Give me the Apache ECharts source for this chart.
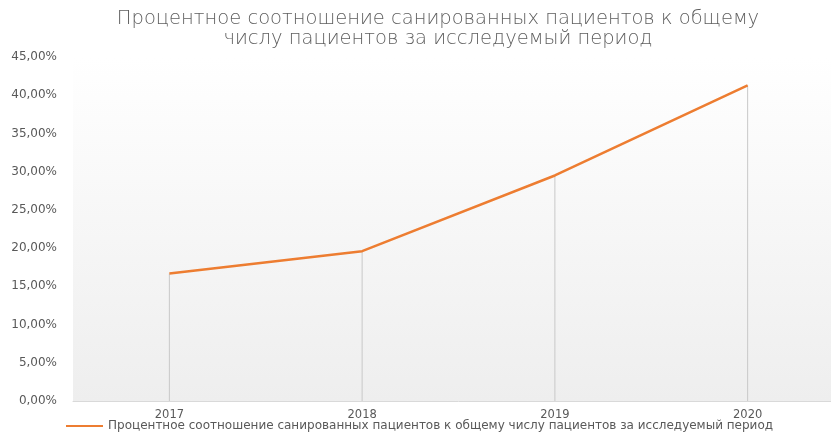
<!DOCTYPE html>
<html>
<head>
<meta charset="utf-8">
<script src="https://cdn.jsdelivr.net/npm/echarts@6/dist/echarts.min.js"></script>
<style>
  html, body { margin: 0; padding: 0; background: #ffffff; overflow: hidden; }
  #chart { width: 844px; height: 437px; }
</style>
</head>
<body>
<div id="chart"></div>
<script>
// Years on the horizontal axis
const years = ['2017', '2018', '2019', '2020'];
// Share of sanitized patients (fraction of total)
const sanitizedShare = [0.1667, 0.196, 0.295, 0.413];
const seriesName = 'Процентное соотношение санированных пациентов к общему числу пациентов за исследуемый период';
const titleLines = [
  'Процентное соотношение санированных пациентов к общему',
  'числу пациентов за исследуемый период'
];

const fmtPct = v => (v * 100).toFixed(2).replace('.', ',') + '%';
const FONT = 'DejaVu Sans';

const chart = echarts.init(document.getElementById('chart'), null, { renderer: 'canvas' });
chart.setOption({
  animation: false,
  backgroundColor: '#ffffff',
  textStyle: { fontFamily: FONT },
  title: {
    text: titleLines.join('\n'),
    left: 433,
    top: 4,
    textAlign: 'center',
    textStyle: {
      fontFamily: FONT,
      fontSize: 19.5,
      fontWeight: 300,
      color: '#5e5e5e',
      lineHeight: 20
    }
  },
  legend: {
    data: [seriesName],
    left: 61,
    bottom: 0,
    icon: 'rect',
    itemWidth: 37,
    itemHeight: 2,
    itemGap: 3,
    textStyle: { fontFamily: FONT, fontSize: 12, color: '#595959' }
  },
  grid: {
    left: 73,
    right: 0,
    top: 57,
    bottom: 36,
    show: true,
    borderWidth: 0,
    backgroundColor: {
      type: 'linear', x: 0, y: 0, x2: 0, y2: 1,
      colorStops: [
        { offset: 0, color: '#ffffff' },
        { offset: 1, color: '#eeeeee' }
      ]
    }
  },
  xAxis: {
    type: 'category',
    data: years,
    boundaryGap: true,
    axisTick: { show: false },
    axisLine: { lineStyle: { color: '#d9d9d9', width: 1 } },
    axisLabel: { color: '#595959', fontSize: 11.5, margin: 8 }
  },
  yAxis: {
    type: 'value',
    min: 0,
    max: 0.45,
    interval: 0.05,
    axisLine: { show: false },
    axisTick: { show: false },
    splitLine: { show: false },
    axisLabel: { color: '#595959', fontSize: 12, margin: 16, formatter: fmtPct }
  },
  series: [
    {
      // vertical drop lines from each point to the category axis
      name: 'drop',
      type: 'bar',
      data: sanitizedShare,
      barWidth: 1,
      itemStyle: { color: '#c8c8c8' },
      silent: true
    },
    {
      name: seriesName,
      type: 'line',
      data: sanitizedShare,
      symbol: 'none',
      lineStyle: { color: '#ed7d31', width: 2.5 },
      itemStyle: { color: '#ed7d31' },
      z: 5
    }
  ]
});
</script>
</body>
</html>
